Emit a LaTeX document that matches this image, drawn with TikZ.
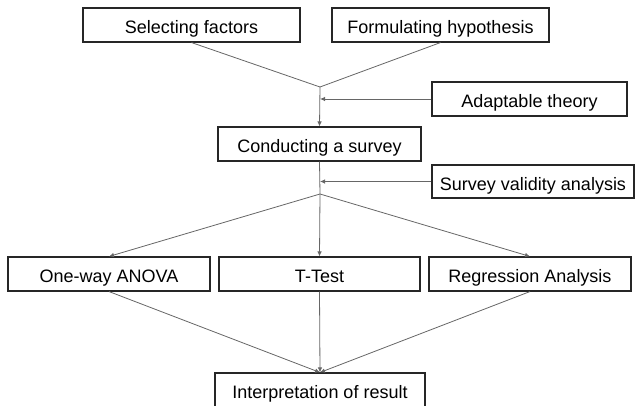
\documentclass[tikz,border=0pt]{standalone}
\usepackage{fontspec}
\setmainfont{Liberation Sans}
\usetikzlibrary{arrows.meta}

\tikzset{box/.style={draw=black!85, line width=1.1pt, fill=white, minimum height=34pt, inner sep=0pt,
    text height=17.4pt, text depth=0pt, font=\fontsize{18}{20}\selectfont},
  link/.style={draw=black!60, line width=0.8pt},
  arr/.style={link, -{Latex[length=5pt,width=4.5pt]}}}

\begin{document}
\begin{tikzpicture}[x=1pt,y=-1pt]
\useasboundingbox (0,0) rectangle (635,405);
\coordinate (J1) at (320,87); \coordinate (J2) at (320,194);
\node[box, minimum width=217pt] (sel) at (191.5,25) {Selecting factors};
\node[box, minimum width=217pt] (form) at (440.5,25) {Formulating hypothesis};
\node[box, minimum width=195pt] (adapt) at (529.5,99) {Adaptable theory};
\node[box, minimum width=203pt] (cond) at (319.5,144) {Conducting a survey};
\node[box, minimum width=202pt, minimum height=33pt] (valid) at (533,181.5) {Survey validity analysis};
\node[box, minimum width=202pt] (anova) at (109,274) {One-way ANOVA};
\node[box, minimum width=201pt] (ttest) at (319.5,274) {T-Test};
\node[box, minimum width=202pt] (regr) at (530,274) {Regression Analysis};
\node[box, minimum width=210pt] (interp) at (320,390) {Interpretation of result};
\draw[link] (sel.south)--(J1)--(form.south);
\draw[arr] (J1)--(cond.north);
\draw[arr] (adapt.west)--(adapt.west -| J1);
\draw[link] (cond.south)--(J2);
\draw[arr] (valid.west)--(valid.west -| J2);
\draw[arr] (J2)--(anova.north);
\draw[arr] (J2)--(ttest.north);
\draw[arr] (J2)--(regr.north);
\draw[arr] (anova.south)--(interp.north);
\draw[arr] (ttest.south)--(interp.north);
\draw[arr] (regr.south)--(interp.north);
\end{tikzpicture}
\end{document}
